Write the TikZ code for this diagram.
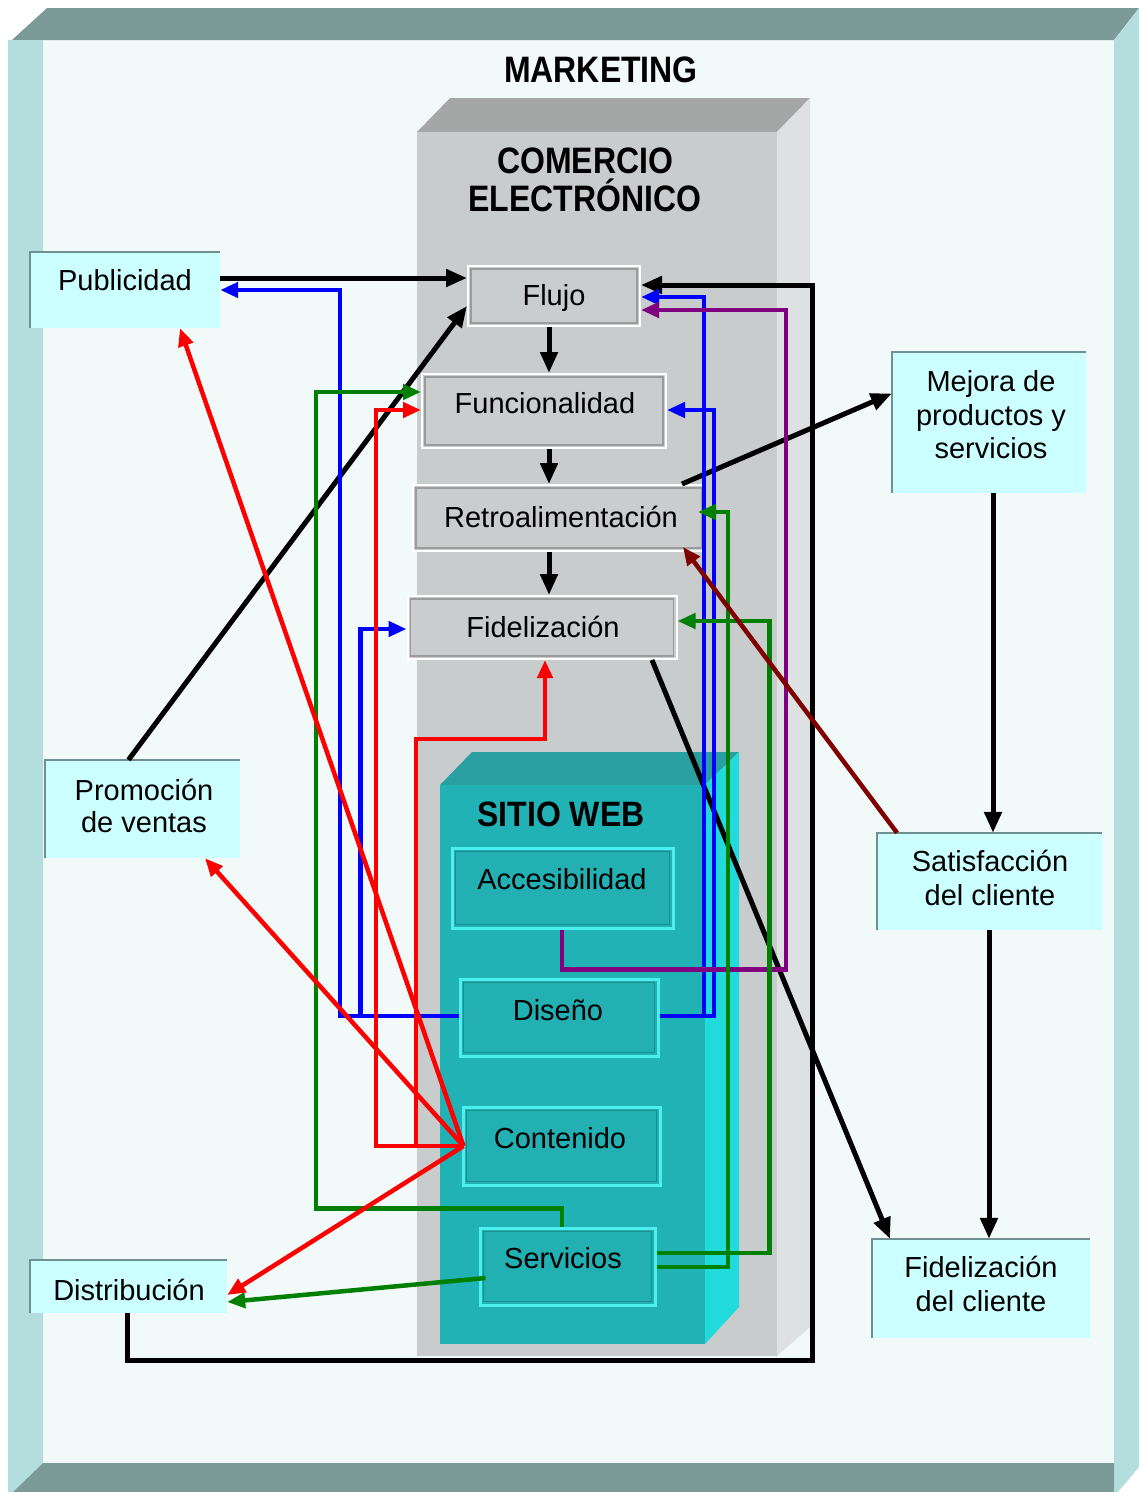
\documentclass[tikz,border=0pt]{standalone}
\usepackage{fontspec}
\setmainfont{Liberation Sans}
\usetikzlibrary{arrows.meta}
\definecolor{bandc}{HTML}{7B9A98}
\definecolor{stripc}{HTML}{B4DEDE}
\definecolor{innerc}{HTML}{F1F9F9}
\definecolor{ctop}{HTML}{A5A7A7}
\definecolor{cfront}{HTML}{C8CCCC}
\definecolor{cside}{HTML}{DDE1E1}
\definecolor{stop}{HTML}{2A9FA2}
\definecolor{sfront}{HTML}{20B2B5}
\definecolor{sside}{HTML}{20DADC}
\definecolor{grayboxc}{HTML}{C9CDCD}
\definecolor{grayedge}{HTML}{9A9C9C}
\definecolor{tealboxc}{HTML}{22B0B3}
\definecolor{tealedge}{HTML}{4DEEEE}
\definecolor{tealdark}{HTML}{178E91}
\definecolor{cyanbox}{HTML}{CCFFFF}
\definecolor{cyanedge}{HTML}{6F9090}
\definecolor{cgreen}{HTML}{008000}
\definecolor{cpurple}{HTML}{800080}
\definecolor{cdarkred}{HTML}{800000}
\definecolor{cblue}{HTML}{0000FF}
\definecolor{cred}{HTML}{FF0000}
\begin{document}
\begin{tikzpicture}[x=1pt,y=-1pt,
  lbl/.style={anchor=base, inner sep=0pt, font=\fontsize{29}{34}\selectfont},
  ttl/.style={anchor=base, inner sep=0pt, font=\fontsize{32}{38}\selectfont\bfseries},
  gbox/.style={draw=white, line width=2pt, fill=grayboxc, inner sep=0pt},
  tbox/.style={draw=tealedge, line width=3pt, fill=tealboxc, inner sep=0pt},
  cbox/.style={fill=cyanbox, inner sep=0pt},
  conn/.style={line width=4.5pt, -{Triangle[length=18pt,width=15pt]}},
  bconn/.style={line width=5pt, black, -{Triangle[length=21pt,width=17pt]}},
]
\useasboundingbox (0,0) rectangle (1139,1492);
\fill[white] (0,0) rectangle (1139,1492);
% outer frame (MARKETING)
\fill[innerc] (43,40) rectangle (1114,1463);
\fill[bandc] (12,40) -- (47,8) -- (1139,8) -- (1114,40) -- cycle;
\fill[stripc] (8,40) -- (43,40) -- (43,1463) -- (13,1492) -- (8,1492) -- cycle;
\fill[stripc] (1114,40) -- (1139,9) -- (1139,1467) -- (1118,1492) -- (1114,1492) -- cycle;
\fill[bandc] (13,1492) -- (43,1463) -- (1114,1463) -- (1114,1492) -- cycle;
% comercio electronico block
\fill[ctop] (417,132) -- (450,98) -- (810,98) -- (777,132) -- cycle;
\fill[cside] (777,132) -- (810,98) -- (810,1327) -- (777,1356) -- cycle;
\fill[cfront] (417,132) rectangle (777,1356);
% sitio web block
\fill[stop] (440,785) -- (472,752) -- (739,752) -- (705,785) -- cycle;
\fill[sside] (705,785) -- (739,752) -- (739,1307) -- (705,1344) -- cycle;
\fill[sfront] (440,785) rectangle (705,1344);

% gray boxes
\node[gbox, minimum width=172pt, minimum height=60pt] (flujo) at (554,296) {};
\node[gbox, minimum width=244pt, minimum height=74pt] (func) at (544,411) {};
\node[gbox, minimum width=292pt, minimum height=66pt] (retro) at (559,518) {};
\node[gbox, minimum width=269pt, minimum height=63pt] (fidel) at (542,627.5) {};
\foreach \nm in {flujo,func,retro,fidel}
  \draw[grayedge, line width=1.5pt] ([shift={(4pt,-4pt)}]\nm.north west) rectangle ([shift={(-4pt,4pt)}]\nm.south east);
% teal boxes
\node[tbox, minimum width=221pt, minimum height=80pt] (acces) at (562.5,888) {};
\node[tbox, minimum width=198pt, minimum height=77pt] (diseno) at (559,1017.5) {};
\node[tbox, minimum width=197pt, minimum height=78pt] (conten) at (561.5,1146) {};
\node[tbox, minimum width=175pt, minimum height=77pt] (servic) at (567.5,1266.5) {};
\foreach \nm in {acces,diseno,conten,servic}
  \draw[tealdark, line width=1.3pt] ([shift={(5pt,-5pt)}]\nm.north west) rectangle ([shift={(-5pt,5pt)}]\nm.south east);
% light cyan boxes
\node[cbox, minimum width=190pt, minimum height=76pt] (publi) at (125,290) {};
\node[cbox, minimum width=195pt, minimum height=98pt] (promo) at (142.5,809) {};
\node[cbox, minimum width=197pt, minimum height=53pt] (distri) at (128.5,1286.5) {};
\node[cbox, minimum width=194pt, minimum height=141pt] (mejora) at (989,422.5) {};
\node[cbox, minimum width=225pt, minimum height=97pt] (satisf) at (989.5,881.5) {};
\node[cbox, minimum width=218pt, minimum height=99pt] (fidcli) at (981,1288.5) {};
\foreach \nm in {publi,promo,distri,mejora,satisf,fidcli}
  \draw[cyanedge, line width=2pt] (\nm.south west) |- (\nm.north east);

% black connectors
\draw[bconn] ([yshift=12pt]publi.east) -- ([yshift=18pt]flujo.west);
\draw[bconn] ([xshift=-14pt]promo.north) -- ([yshift=-10pt]flujo.west);
\draw[bconn] ([xshift=-5pt]flujo.south) -- ([xshift=5pt]func.north);
\draw[bconn] ([xshift=5pt]func.south) -- ([xshift=-10pt]retro.north);
\draw[bconn] ([xshift=-10pt]retro.south) -- ([xshift=7pt]fidel.north);
\draw[bconn] ([xshift=123pt]retro.north) -- ([yshift=29pt]mejora.west);
\draw[bconn] ([xshift=110pt]fidel.south) -- ([xshift=-91pt]fidcli.north);
\draw[bconn] ([xshift=4pt]mejora.south) -- ([xshift=3.5pt]satisf.north);
\draw[bconn] ([xshift=-0.5pt]satisf.south) -- ([xshift=8pt]fidcli.north);
\draw[bconn] ([xshift=-1.5pt]distri.south) |- (812,1360) |- ([yshift=11pt]flujo.east);
% blue
\coordinate (bj) at ([xshift=-98pt,yshift=1.5pt]diseno.west);
\draw[conn, cblue] ([yshift=1.5pt]diseno.west) -| ([xshift=120pt]publi.east) -- (publi.east);
\draw[conn, cblue] (bj) |- ([yshift=-1.5pt]fidel.west);
\draw[conn, cblue] ([yshift=1.5pt]diseno.east) -| ([xshift=63pt,yshift=-1pt]flujo.east) -- ([yshift=-1pt]flujo.east);
\draw[conn, cblue] ([yshift=1.5pt]diseno.east) -| ([xshift=47pt,yshift=1pt]func.east) -- ([yshift=1pt]func.east);
% purple
\draw[conn, cpurple] ([xshift=-0.5pt]acces.south) -- ++(0,40) -| ([xshift=145pt,yshift=-14pt]flujo.east) -- ([yshift=-14pt]flujo.east);
% green
\draw[conn, cgreen] ([xshift=-5.5pt]servic.north) -- ++(0,-18) -| ([xshift=-105pt,yshift=19pt]func.west) -- ([yshift=19pt]func.west);
\draw[conn, cgreen] ([yshift=-0.5pt]servic.east) -| ([xshift=22pt,yshift=6pt]retro.east) -- ([xshift=-8pt,yshift=6pt]retro.east);
\draw[conn, cgreen] ([yshift=13.5pt]servic.east) -| ([xshift=92pt,yshift=6.5pt]fidel.east) -- ([yshift=6.5pt]fidel.east);
\draw[conn, cgreen] ([xshift=7pt,yshift=-11.5pt]servic.west) -- ([yshift=-15.5pt]distri.east);
% red
\draw[conn, cred] ([xshift=2pt]conten.west) -- ([xshift=55pt]publi.south);
\draw[conn, cred] ([xshift=2pt]conten.west) -- ([xshift=62.5pt]promo.south);
\draw[conn, cred] ([xshift=2pt]conten.west) -- ([yshift=-8.5pt]distri.east);
\draw[conn, cred] (conten.west) -| ([xshift=-45pt,yshift=1pt]func.west) -- ([yshift=1pt]func.west);
\draw[conn, cred] (conten.west) -| ([xshift=-126pt,yshift=-79pt]fidel.south) -| ([xshift=3pt]fidel.south);
% dark red
\draw[conn, cdarkred] ([xshift=-92.5pt]satisf.north) -- ([xshift=124pt,yshift=5pt]retro.south);

% titles
\node[ttl] (tmkt) at (601,82) {\scalebox{1}[1.15]{MARKETING}};
\node[ttl] (tcom1) at (585,173) {\scalebox{1}[1.15]{COMERCIO}};
\node[ttl] (tcom2) at (585,211) {\scalebox{1}[1.15]{ELECTRÓNICO}};
\node[ttl] (tsit) at (561,826) {\scalebox{1}[1.1]{SITIO WEB}};
% labels
\node[lbl] (tflujo) at (554,305) {Flujo};
\node[lbl] (tfunc) at (545,413) {Funcionalidad};
\node[lbl] (tretro) at (561,527) {Retroalimentación};
\node[lbl] (tfidel) at (543,637) {Fidelización};
\node[lbl] (tpubli) at (125,290) {Publicidad};
\node[lbl] (tpromo1) at (144,800) {Promoción};
\node[lbl] (tpromo2) at (144,832) {de ventas};
\node[lbl] (tdistri) at (129,1300) {Distribución};
\node[lbl] (tmej1) at (991,391) {Mejora de};
\node[lbl] (tmej2) at (991,425) {productos y};
\node[lbl] (tmej3) at (991,458) {servicios};
\node[lbl] (tsat1) at (990,871) {Satisfacción};
\node[lbl] (tsat2) at (990,905) {del cliente};
\node[lbl] (tfc1) at (981,1277) {Fidelización};
\node[lbl] (tfc2) at (981,1311) {del cliente};
\node[lbl] (tacc) at (562,889) {Accesibilidad};
\node[lbl] (tdis) at (558,1020) {Diseño};
\node[lbl] (tcon) at (560,1148) {Contenido};
\node[lbl] (tser) at (563,1268) {Servicios};
\end{tikzpicture}
\end{document}
